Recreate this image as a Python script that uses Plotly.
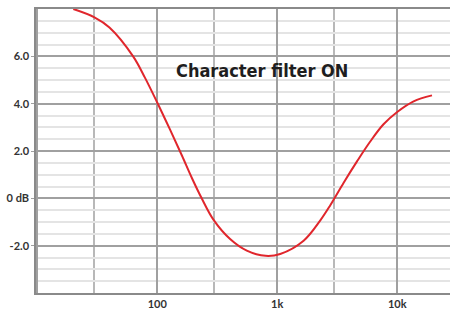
import plotly.graph_objects as go

freq_hz = [20, 30, 40, 63, 79, 100, 128, 161, 195, 236, 294, 405, 558, 800, 1060, 1660, 2280, 2770, 3570, 4610, 5960, 7690, 10000, 13700, 19500]
gain_db = [8.0, 7.65, 7.22, 6.0, 5.1, 4.05, 2.9, 1.8, 0.85, -0.02, -0.9, -1.72, -2.21, -2.43, -2.35, -1.79, -0.94, -0.29, 0.65, 1.55, 2.4, 3.13, 3.65, 4.1, 4.35]

x_major_vals = [10, 100, 1000, 10000]
x_major_text = ["", "100", "1k", "10k"]
x_minor_vals = [30, 300, 3000]
y_tick_vals = [-2, 0, 2, 4, 6]
y_tick_text = ["-2.0", "0 dB", "2.0", "4.0", "6.0"]
title_text = "Character filter ON"

fig = go.Figure()
fig.add_trace(go.Scatter(
    x=freq_hz, y=gain_db, mode="lines",
    line=dict(color="#e0262c", width=2, shape="spline", smoothing=1.0),
    hoverinfo="skip", showlegend=False,
))

fig.update_layout(
    width=450, height=310,
    margin=dict(l=36, r=0, t=9, b=17),
    paper_bgcolor="white", plot_bgcolor="white",
    font=dict(family="Lato, sans-serif", size=11, color="#333333"),
    xaxis=dict(
        type="log", range=[0.99, 4.44], automargin=False,
        tickmode="array", tickvals=x_major_vals, ticktext=x_major_text,
        showgrid=True, gridcolor="#a0a0a0", gridwidth=1.5,
        ticks="",
        minor=dict(tickmode="array", tickvals=x_minor_vals, showgrid=True,
                   gridcolor="#b8b8b8", gridwidth=1.5, ticks=""),
        showline=True, linecolor="#8a8a8a", linewidth=1.5, mirror=True,
        zeroline=False,
        tickfont=dict(family="Lato, sans-serif", size=11, color="#333333", weight="bold"),
    ),
    yaxis=dict(
        range=[-4, 8], automargin=False,
        tickmode="array", tickvals=y_tick_vals, ticktext=y_tick_text,
        showgrid=True, gridcolor="#a0a0a0", gridwidth=1.5,
        ticks="outside", ticklen=3, tickcolor="#a0a0a0",
        minor=dict(dtick=0.5, showgrid=True, gridcolor="#e4e4e4", gridwidth=2),
        showline=True, linecolor="#8a8a8a", linewidth=1.5,
        zeroline=False,
        tickfont=dict(family="Lato, sans-serif", size=11, color="#333333", weight="bold"),
    ),
    annotations=[dict(
        text=title_text, xref="paper", yref="paper", x=0.546, y=0.782,
        xanchor="center", yanchor="middle", showarrow=False,
        font=dict(family="DejaVu Sans Condensed, Liberation Sans Narrow, sans-serif", size=18, color="#1e1e1e", weight="bold"),
    )],
)

# remove the default 8px page margin so the figure sits at the window's corner
fig.write_html("out.html", config={"displayModeBar": False},
               post_script="document.body.style.margin='0';")
